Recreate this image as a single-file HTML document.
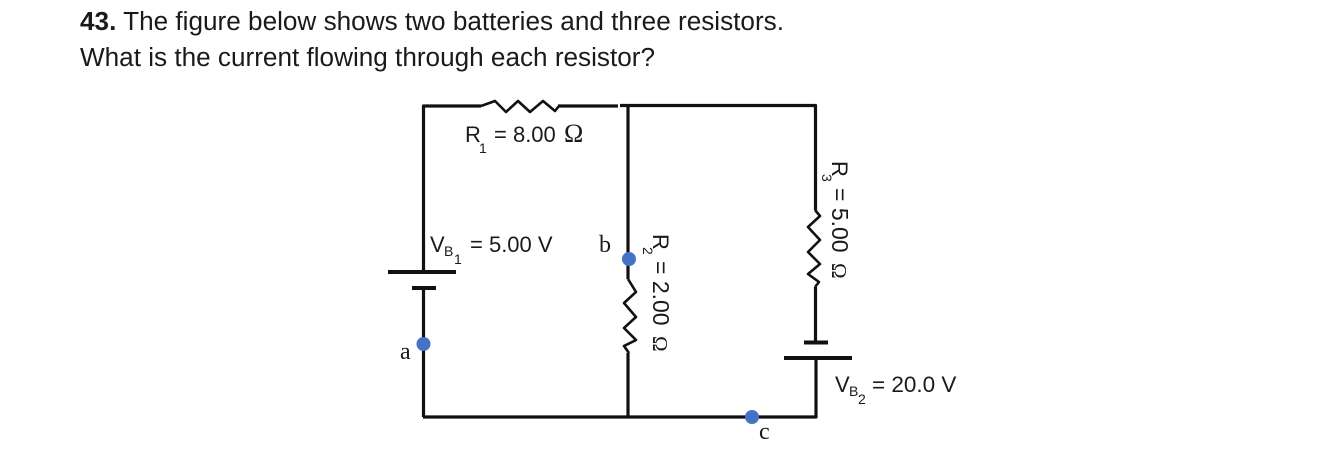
<!DOCTYPE html>
<html><head><meta charset="utf-8"><style>
html,body{margin:0;padding:0;background:#fff;width:1334px;height:459px;overflow:hidden}
svg{display:block}
text{font-family:"Liberation Sans",sans-serif;fill:#1a1a1a}
.s{font-family:"Liberation Serif",serif}
</style></head><body>
<svg width="1334" height="459" viewBox="0 0 1334 459" xmlns="http://www.w3.org/2000/svg">
<text x="80" y="30" font-size="25.500" textLength="704" lengthAdjust="spacingAndGlyphs"><tspan font-weight="bold">43.</tspan> The figure below shows two batteries and three resistors.</text>
<text x="80" y="66" font-size="25.500" textLength="575" lengthAdjust="spacingAndGlyphs">What is the current flowing through each resistor?</text>
<g fill="none" stroke="#111" stroke-width="3.200" stroke-linejoin="round">
<path d="M481 106H423.500V272M423.500 288V417M558 106H618M620 105.500H815.500V210M628 106V259M628 265V279M628 353V417M423 417H816V358M815.500 287V342"/>
<path stroke-width="2.600" d="M481 106L495 101L506 112L518 101L530 112L543 101L555 111L559 106"/>
<path stroke-width="2.600" d="M628 279L636 292L624 303L636 317L624 328L636 340L624 346L629 353"/>
<path stroke-width="2.600" d="M815 210L820 216L808 227L820 240L808 252L820 264L808 274L819 282L815 287"/>
<path stroke-width="4" d="M388 272H456M412 288H436M804 342.500H828M784 358H852"/>
</g>
<g fill="#4472c4"><circle cx="423.500" cy="344" r="7"/><circle cx="629" cy="259" r="7"/><circle cx="752" cy="417" r="7"/></g>
<text x="465" y="142" font-size="22">R</text><text x="479" y="153" font-size="14">1</text>
<text x="494" y="142" font-size="22">= 8.00</text><text class="s" x="564" y="142" font-size="26">Ω</text>
<text x="430" y="252" font-size="22">V</text><text x="444" y="256" font-size="14">B</text><text x="454" y="264" font-size="14">1</text>
<text x="470" y="252" font-size="22">= 5.00 V</text>
<text x="835" y="392" font-size="22">V</text><text x="849" y="396" font-size="14">B</text><text x="858" y="404" font-size="14">2</text>
<text x="872" y="392" font-size="22.500">= 20.0 V</text>
<text class="s" x="599" y="252" font-size="24">b</text>
<text class="s" x="400" y="359" font-size="24">a</text>
<text class="s" x="759" y="439" font-size="24">c</text>
<g transform="translate(653 234) rotate(90)"><text x="0" y="0" font-size="22">R</text><text x="13" y="10" font-size="14">2</text><text x="27" y="0" font-size="23">= 2.00</text><text class="s" x="102" y="0" font-size="21">Ω</text></g>
<g transform="translate(832 161) rotate(90)"><text x="0" y="0" font-size="22">R</text><text x="13" y="10" font-size="14">3</text><text x="27" y="0" font-size="23">= 5.00</text><text class="s" x="102" y="0" font-size="21">Ω</text></g>
</svg>
</body></html>
